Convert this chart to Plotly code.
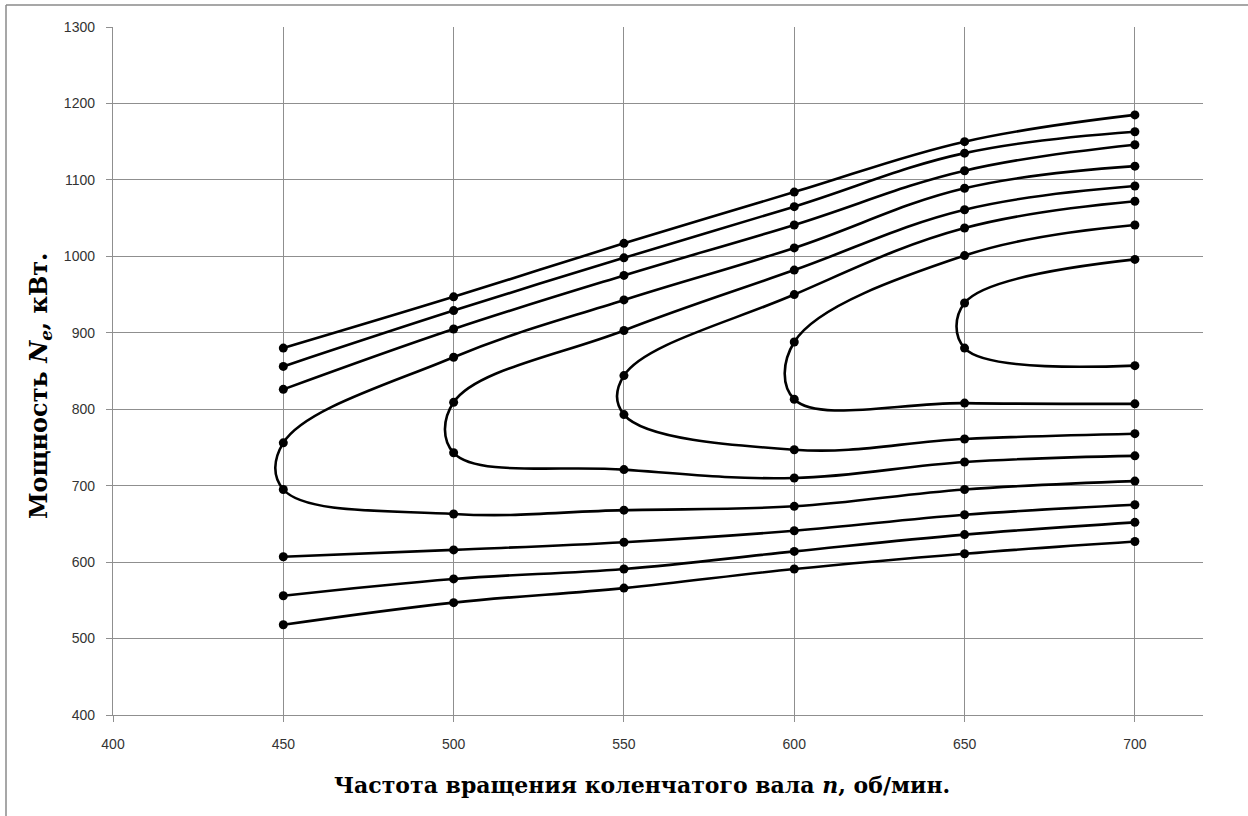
import plotly.graph_objects as go

# Rotational speed n, rpm (x) and effective power Ne, kW (y) for each curve
c1_x = [450, 500, 550, 600, 650, 700]
c1_y = [880, 947, 1017, 1084, 1150, 1185]

c2_x = [450, 500, 550, 600, 650, 700]
c2_y = [856, 929, 998, 1065, 1135, 1163]

c3_x = [450, 500, 550, 600, 650, 700]
c3_y = [826, 905, 975, 1041, 1112, 1146]

c4_x = [700, 650, 600, 550, 500, 450, 450, 500, 550, 600, 650, 700]
c4_y = [1118, 1089, 1011, 943, 868, 756, 695, 663, 668, 673, 695, 706]

c5_x = [700, 650, 600, 550, 500, 500, 550, 600, 650, 700]
c5_y = [1092, 1061, 982, 903, 809, 743, 721, 710, 731, 739]

c6_x = [700, 650, 600, 550, 550, 600, 650, 700]
c6_y = [1072, 1037, 950, 844, 793, 747, 761, 768]

c7_x = [700, 650, 600, 600, 650, 700]
c7_y = [1041, 1001, 888, 813, 808, 807]

c8_x = [700, 650, 650, 700]
c8_y = [996, 939, 880, 857]

c9_x = [450, 500, 550, 600, 650, 700]
c9_y = [607, 616, 626, 641, 662, 675]

c10_x = [450, 500, 550, 600, 650, 700]
c10_y = [556, 578, 591, 614, 636, 652]

c11_x = [450, 500, 550, 600, 650, 700]
c11_y = [518, 547, 566, 591, 611, 627]

curves = [
    (c1_x, c1_y), (c2_x, c2_y), (c3_x, c3_y), (c4_x, c4_y),
    (c5_x, c5_y), (c6_x, c6_y), (c7_x, c7_y), (c8_x, c8_y),
    (c9_x, c9_y), (c10_x, c10_y), (c11_x, c11_y),
]

x_title = "<b>Частота вращения коленчатого вала <i>n</i>, об/мин.</b>"
y_title = "<b>Мощность <i>N</i><sub><i>e</i></sub>, кВт.</b>"

fig = go.Figure()
for cx, cy in curves:
    fig.add_trace(go.Scatter(
        x=cx, y=cy, mode="lines+markers",
        line=dict(color="black", width=2.6, shape="spline", smoothing=1.1),
        marker=dict(color="black", size=9),
        showlegend=False, hoverinfo="x+y",
    ))

W, H = 1248, 816
ml, mr, mt, mb = 113, 45, 27, 101
pw, ph = W - ml - mr, H - mt - mb

def px_x(p):
    return (p - ml) / pw

def px_y(p):
    return (H - mb - p) / ph

grid = "#8f8f8f"
tickfont = dict(family="Liberation Sans, Arial, sans-serif", size=14, color="#333333")
serif = "DejaVu Serif, Liberation Serif, serif"

fig.update_layout(
    width=W, height=H,
    margin=dict(l=ml, r=mr, t=mt, b=mb),
    paper_bgcolor="white", plot_bgcolor="white",
    xaxis=dict(
        range=[400, 720], dtick=50, tick0=400,
        showgrid=True, gridcolor=grid, gridwidth=1.4,
        showline=True, linecolor=grid, linewidth=1.4,
        ticks="outside", ticklen=6, tickcolor=grid, tickwidth=1.4,
        tickfont=tickfont, ticklabelstandoff=10, zeroline=False,
    ),
    yaxis=dict(
        range=[400, 1300], dtick=100, tick0=400,
        showgrid=True, gridcolor=grid, gridwidth=1.4,
        showline=True, linecolor=grid, linewidth=1.4,
        ticks="outside", ticklen=6, tickcolor=grid, tickwidth=1.4,
        tickfont=tickfont, ticklabelstandoff=8, zeroline=False,
    ),
    annotations=[
        dict(text=x_title, xref="paper", yref="paper",
             x=px_x(642), y=px_y(785), xanchor="center", yanchor="middle",
             showarrow=False,
             font=dict(family=serif, size=22, color="black")),
        dict(text=y_title, xref="paper", yref="paper",
             x=px_x(40), y=px_y(386), xanchor="center", yanchor="middle",
             textangle=-90, showarrow=False,
             font=dict(family=serif, size=24, color="black")),
    ],
    shapes=[
        dict(type="line", xref="paper", yref="paper",
             x0=px_x(6), x1=px_x(6), y0=px_y(5), y1=px_y(816),
             line=dict(color="#8a8a8a", width=1.5)),
        dict(type="line", xref="paper", yref="paper",
             x0=px_x(6), x1=px_x(1248), y0=px_y(5), y1=px_y(5),
             line=dict(color="#8a8a8a", width=1.5)),
    ],
)

fig.write_html(
    "out.html",
    config={"displayModeBar": False},
    post_script="document.body.style.margin='0';document.body.style.padding='0';"
                "document.documentElement.style.overflow='hidden';",
)
